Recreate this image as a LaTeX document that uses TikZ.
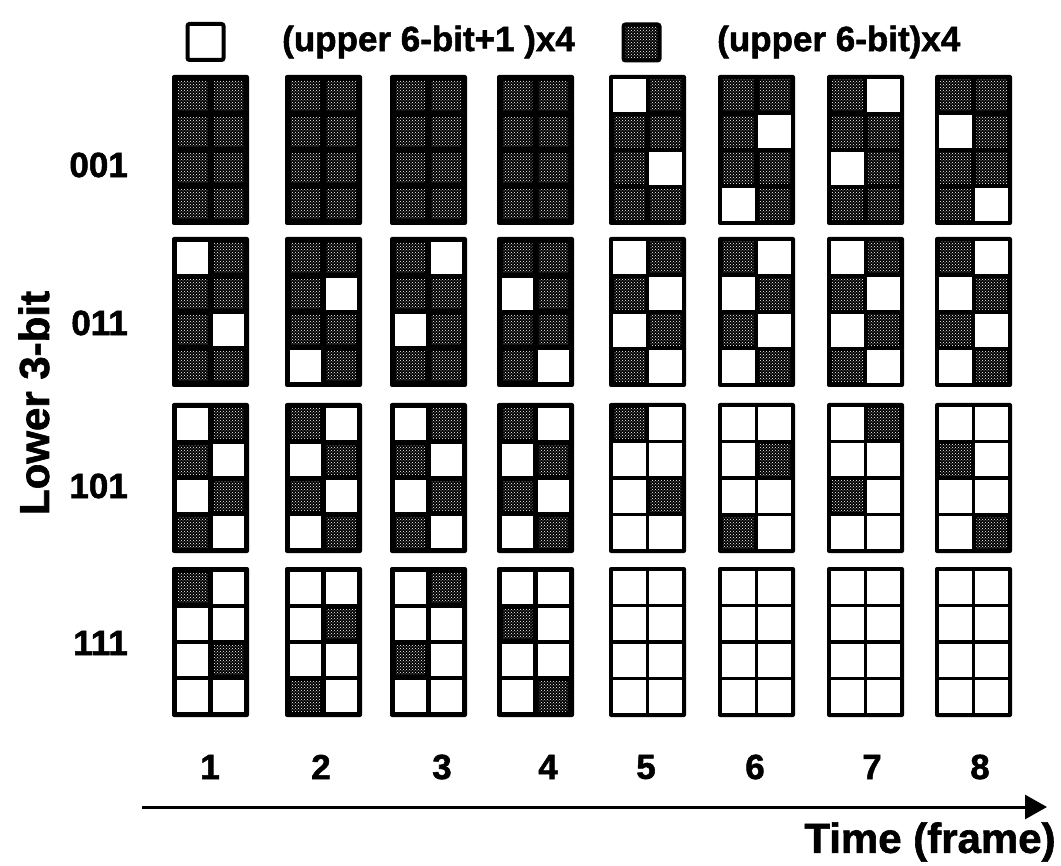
\documentclass[tikz,border=0pt]{standalone}
\usepackage{fontspec}
\setmainfont{Liberation Sans}[BoldFeatures={FakeBold=1.5}]
\usetikzlibrary{patterns,arrows.meta}

\tikzset{
  blockframe/.style={fill=black, rounded corners=2pt},
  litcell/.style={fill=white},
  darkdots/.style={pattern=crosshatch dots, pattern color=white},
  lbl/.style={font=\fontsize{35}{40}\selectfont\bfseries, inner sep=0pt},
  biglbl/.style={font=\fontsize{42}{48}\selectfont\bfseries, inner sep=0pt},
  timeaxis/.style={line width=3pt, -{Triangle[length=22pt,width=24pt]}},
  legendlit/.style={draw=black, line width=4pt, fill=white, rounded corners=2pt, minimum size=36pt, inner sep=0pt},
  legenddark/.style={draw=black, line width=4pt, preaction={fill=black}, pattern=crosshatch dots, pattern color=white, rounded corners=2pt, minimum size=36pt, inner sep=0pt},
}

% #1 x-left, #2 y-top, #3 outer border, #4 inner line, #5 cell list (row-major, 2 per row)
\newcommand\drawblock[5]{%
  \fill[blockframe] (#1,#2) rectangle ++(77,150);
  \pgfmathsetmacro\cw{(77-2*#3-#4)/2}%
  \pgfmathsetmacro\ch{(150-2*#3-3*#4)/4}%
  \foreach \v [count=\k from 0] in {#5} {%
    \pgfmathtruncatemacro\cc{mod(\k,2)}%
    \pgfmathtruncatemacro\rr{int(\k/2)}%
    \pgfmathsetmacro\lx{#1+#3+\cc*(\cw+#4)}%
    \pgfmathsetmacro\ty{#2+#3+\rr*(\ch+#4)}%
    \if\v W
      \fill[litcell] (\lx,\ty) rectangle ++(\cw,\ch);
    \else
      \fill[darkdots] (\lx+1,\ty+1) rectangle ++(\cw-2,\ch-2);
    \fi
  }%
}

\begin{document}
\begin{tikzpicture}[x=1pt,y=-1pt]
\useasboundingbox (0,0) rectangle (1061,866);

% legend
\node[legendlit] (legW) at (205.5,42) {};
\node[lbl, anchor=west] (legtxtA) at (282,42) {(upper 6-bit+1 )x4};
\node[legenddark] (legD) at (641.5,42.5) {};
\node[lbl, anchor=west] (legtxtB) at (717,42) {(upper 6-bit)x4};

% row labels
\node[biglbl, rotate=90] (ylabel) at (34,403) {Lower 3-bit};
\node[lbl, anchor=east] (r001) at (128,165) {001};
\node[lbl, anchor=east] (r011) at (128,323) {011};
\node[lbl, anchor=east] (r101) at (128,486) {101};
\node[lbl, anchor=east] (r111) at (128,643) {111};

% row 001
\drawblock{172}{75}{5}{4.5}{D,D,D,D,D,D,D,D}
\drawblock{285}{75}{5}{4.5}{D,D,D,D,D,D,D,D}
\drawblock{390}{75}{5}{4.5}{D,D,D,D,D,D,D,D}
\drawblock{497}{75}{5}{4.5}{D,D,D,D,D,D,D,D}
\drawblock{609}{75}{4}{3.5}{W,D,D,D,D,W,D,D}
\drawblock{718}{75}{4}{3.5}{D,D,D,W,D,D,W,D}
\drawblock{827}{75}{4}{3.5}{D,W,D,D,W,D,D,D}
\drawblock{935}{75}{4}{3.5}{D,D,W,D,D,D,D,W}

% row 011
\drawblock{172}{237}{5}{4.5}{W,D,D,D,D,W,D,D}
\drawblock{285}{237}{5}{4.5}{D,D,D,W,D,D,W,D}
\drawblock{390}{237}{5}{4.5}{D,W,D,D,W,D,D,D}
\drawblock{497}{237}{5}{4.5}{D,D,W,D,D,D,D,W}
\drawblock{609}{237}{4}{3.5}{W,D,D,W,W,D,D,W}
\drawblock{718}{237}{4}{3.5}{D,W,W,D,D,W,W,D}
\drawblock{827}{237}{4}{3.5}{W,D,D,W,W,D,D,W}
\drawblock{935}{237}{4}{3.5}{D,W,W,D,D,W,W,D}

% row 101
\drawblock{172}{403}{5}{4.5}{W,D,D,W,W,D,D,W}
\drawblock{285}{403}{5}{4.5}{D,W,W,D,D,W,W,D}
\drawblock{390}{403}{5}{4.5}{W,D,D,W,W,D,D,W}
\drawblock{497}{403}{5}{4.5}{D,W,W,D,D,W,W,D}
\drawblock{609}{403}{4}{3.5}{D,W,W,W,W,D,W,W}
\drawblock{718}{403}{4}{3.5}{W,W,W,D,W,W,D,W}
\drawblock{827}{403}{4}{3.5}{W,D,W,W,D,W,W,W}
\drawblock{935}{403}{4}{3.5}{W,W,D,W,W,W,W,D}

% row 111
\drawblock{172}{567}{5}{4.5}{D,W,W,W,W,D,W,W}
\drawblock{285}{567}{5}{4.5}{W,W,W,D,W,W,D,W}
\drawblock{390}{567}{5}{4.5}{W,D,W,W,D,W,W,W}
\drawblock{497}{567}{5}{4.5}{W,W,D,W,W,W,W,D}
\drawblock{609}{567}{4}{3.5}{W,W,W,W,W,W,W,W}
\drawblock{718}{567}{4}{3.5}{W,W,W,W,W,W,W,W}
\drawblock{827}{567}{4}{3.5}{W,W,W,W,W,W,W,W}
\drawblock{935}{567}{4}{3.5}{W,W,W,W,W,W,W,W}

% frame numbers
\node[lbl] (f1) at (210,767) {1};
\node[lbl] (f2) at (321,767) {2};
\node[lbl] (f3) at (442,767) {3};
\node[lbl] (f4) at (548,767) {4};
\node[lbl] (f5) at (646,767) {5};
\node[lbl] (f6) at (755,767) {6};
\node[lbl] (f7) at (872,767) {7};
\node[lbl] (f8) at (980,767) {8};

% time axis
\coordinate (tstart) at (142,807);
\coordinate (tend) at (1047,807);
\draw[timeaxis] (tstart) -- (tend);
\node[biglbl] (xlabel) at (930,842) {Time (frame)};
\end{tikzpicture}
\end{document}
